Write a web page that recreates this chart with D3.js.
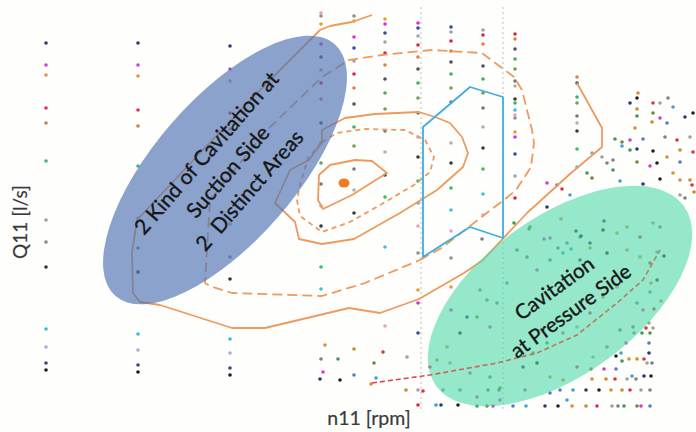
<!DOCTYPE html>
<html>
<head>
<meta charset="utf-8">
<script src="https://cdn.jsdelivr.net/npm/d3@7"></script>
<style>
  html, body { margin: 0; padding: 0; background: #fefefc; }
  svg { display: block; }
  .lbl { font-family: Lato, "Open Sans", sans-serif; fill: #161616; stroke: #161616; stroke-width: 0.35px; white-space: pre; }
  .axis-title { font-family: Lato, "Open Sans", sans-serif; fill: #3a3a3a; stroke: #3a3a3a; stroke-width: 0.2px; }
</style>
</head>
<body>
<svg id="chart" width="696" height="432"></svg>
<script>
// n11 / Q11 in arbitrary units (no ticks on the original)
var sweepN = [4.6, 13.8, 23.0, 32.1, 35.4, 38.5, 41.8, 45.1, 48.3, 51.5, 57.7];
var sweepQ = [
  [38.9, 36.7, 35.7, 32.4, 30.9, 27.1, 21.2, 19.0, 16.5, 10.3, 8.5, 6.9, 6.2],
  [38.9, 36.7, 35.6, 32.2, 30.6, 26.6, 21.4, 18.4, 16.0, 9.8, 8.2, 6.7, 6.0],
  [38.6, 36.3, 35.1, 31.9, 30.3, 26.1, 20.8, 17.5, 15.3, 9.3, 7.9, 6.4, 5.7],
  [41.9, 41.6, 40.8, 38.8, 37.5, 36.2, 34.9, 33.3, 30.9, 28.9, 26.9, 24.8, 22.6, 20.6, 16.5, 14.3],
  [41.6, 41.1, 39.5, 38.4, 37.1, 35.8, 34.4, 32.8, 30.5, 28.6, 26.3, 24.2, 21.9],
  [41.3, 40.8, 39.9, 39.0, 37.9, 36.7, 35.3, 33.9, 32.3, 30.1, 28.0, 25.7, 23.5, 18.5, 10.6],
  [40.9, 40.4, 39.6, 38.7, 37.5, 36.3, 34.9, 33.4, 31.9, 29.5, 27.5, 25.1, 22.9, 20.6, 17.9, 14.2, 12.9, 9.9, 4.2, 2.7],
  [40.5, 40.0, 39.1, 38.1, 37.0, 35.8, 34.4, 33.0, 28.9, 26.9, 24.4, 22.2, 20.1, 17.4, 14.5, 12.2],
  [40.2, 39.7, 38.8, 36.6, 35.3, 33.9, 32.4, 30.5, 28.4, 26.3, 23.8, 21.7],
  [39.8, 39.3, 38.3, 37.3, 36.3, 35.1, 34.6, 33.3, 32.9, 32.2, 31.7, 31.4, 30.0, 29.5, 27.8, 25.6, 23.4],
  [35.5, 34.9, 33.5, 32.9, 31.6, 30.9, 30.1, 28.3, 26.5]
];

// loose measured points (right cluster, pressure side, lower rows)
var scatterPts = [
  [63.0,32.9],[63.7,33.4],[63.8,33.9],[63.7,32.3],[65.3,32.9],[66.0,32.9],[66.8,33.4],[63.7,31.6],[65.3,31.9],
  [66.0,31.4],[66.7,30.9],[67.3,32.5],[68.5,31.5],[69.3,31.9],[63.5,30.4],[65.2,31.0],[67.7,29.2],[69.0,29.5],
  [66.5,29.5],[61.5,29.3],[62.2,29.0],[63.0,29.2],[64.3,29.3],[62.2,28.6],[63.7,28.3],[65.3,28.1],[66.7,27.5],
  [68.0,28.2],[69.3,28.0],[60.2,27.5],[61.3,27.2],[63.0,28.2],[63.7,27.0],[65.0,26.6],[68.0,27.0],[62.0,25.1],
  [64.3,24.8],[66.0,25.3],[68.0,25.2],[69.0,25.2],[69.2,24.7],[68.0,23.7],[68.5,23.4],[58.7,25.9],[59.2,25.4],
  [54.7,24.9],[55.7,24.7],[57.0,23.7],[54.7,22.5],[65.7,26.9],[67.3,25.9],[69.4,24.0],[56.2,24.3],[59.2,27.9],
  [60.7,26.9],[61.3,26.2],
  [53.0,20.5],[55.0,19.4],[56.7,18.9],[58.0,19.5],[59.0,18.9],[60.3,20.2],[61.7,19.9],[62.7,20.5],[64.0,19.5],
  [65.3,20.9],[66.0,20.5],[51.7,18.2],[52.7,17.5],[53.7,16.2],[55.0,17.2],[56.3,17.9],[58.0,17.2],[60.7,17.9],
  [62.7,18.2],[64.0,17.5],[65.0,16.9],[65.7,18.0],[48.0,14.2],[48.7,13.2],[47.7,11.5],[49.0,10.5],[49.7,12.9],
  [50.7,14.9],[46.7,11.5],[46.0,9.9],[44.7,8.5],[43.7,7.2],[43.0,6.5],[45.0,6.9],[47.0,5.9],[49.0,5.5],
  [50.0,4.4],[47.7,3.5],[46.0,4.2],[44.3,4.2],[52.3,6.5],[53.7,6.9],[55.0,5.5],[56.3,5.2],[57.7,6.5],
  [59.3,7.5],[60.7,8.5],[62.0,10.2],[63.3,10.5],[64.3,12.2],[63.7,12.9],[65.0,14.0],[65.7,15.2],[62.7,15.5],
  [61.7,14.5],[60.3,13.5],[59.0,11.9],[57.7,10.5],[56.3,9.9],[54.7,8.9],[53.3,7.9],[50.0,3.2],[55.0,3.9],
  [56.7,3.2],[60.4,21.1],[66.4,17.6],[65.1,14.9],[66.1,13.1],[65.4,12.3],[64.9,10.9],
  [48.2,19.3],[51.4,20.9],[52.9,20.3],[54.4,19.3],[55.8,18.4],[57.1,18.3],[57.6,20.1],[58.1,19.6],[56.1,21.3],[59.0,18.4],
  [64.6,10.4],[65.3,10.4],[63.4,9.9],[64.2,9.9],[65.0,9.9],[62.6,8.9],[64.9,8.9],[62.1,7.9],[64.9,7.9],
  [61.6,7.6],[62.9,7.3],[63.7,7.3],[64.4,7.3],[64.7,6.9],[65.2,6.9],[62.2,7.1],[59.1,6.3],[60.4,6.3],
  [61.6,6.3],[63.2,5.6],[64.4,5.6],[65.1,5.6],[59.2,5.3],[60.6,5.3],[61.5,5.3],[62.7,5.3],[63.6,5.3],
  [48.8,4.2],[49.9,4.2],[52.5,4.2],[56.0,4.2],[57.3,4.2],[58.6,4.2],[59.9,4.2],[61.1,4.2],[62.2,4.2],
  [63.0,4.2],[64.1,4.2],[65.0,4.2],
  [47.7,2.6],[48.7,2.6],[49.3,2.6],[51.3,2.6],[52.6,2.6],[54.5,2.6],[55.8,2.6],[57.2,2.6],[58.6,2.6],
  [59.7,2.6],[61.2,2.6],[61.8,2.6],[62.4,2.6],[63.7,2.6],[64.1,2.6],[65.0,2.6],[43.6,2.7],[44.1,2.7],[45.8,2.7],
  [32.5,8.7],[35.4,8.3],[38.3,8.0],[40.7,7.5],[32.1,7.3],[33.8,7.3],[37.4,6.9],[32.3,6.0],[35.4,5.7],
  [37.6,5.4],[32.0,5.3],[34.0,5.2],[37.1,4.8],[40.6,4.2],[42.3,4.1]
];

// efficiency iso-lines
var isoInner = [[31.9,25.7],[33.0,26.7],[35.5,27.2],[37.2,27.1],[38.7,25.9],[35.2,23.7],[32.3,22.3],[31.8,23.2]];
var isoDash1 = [[32.2,29.0],[33.7,29.9],[36.5,30.3],[40.5,30.2],[42.5,29.2],[43.4,27.5],[43.0,26.0],[41.4,24.7],
  [38.0,22.7],[35.0,21.0],[32.2,20.0],[30.0,21.6],[29.7,23.2],[30.0,24.7],[30.8,27.4]];
var isoMid = [[32.2,29.0],[32.2,30.2],[34.5,31.4],[37.5,31.8],[41.9,32.0],[43.5,31.5],[45.0,30.9],[46.2,29.5],
  [46.8,27.9],[46.3,26.5],[43.7,24.2],[40.0,21.9],[35.4,19.3],[32.2,18.8],[29.9,19.3],[29.5,21.0],[27.5,22.9],
  [29.0,26.2],[30.9,27.2]];
var isoDash2 = [[42.0,17.2],[44.3,18.5],[48.4,21.7],[50.4,23.2],[51.6,24.2],[53.1,26.5],[53.4,28.9],[53.2,30.2],
  [52.2,34.2],[51.4,35.5],[48.2,37.9],[46.4,38.0],[43.2,38.2],[38.2,37.7],[34.9,37.2],[32.2,35.5],[26.7,30.2],
  [21.0,23.2],[20.5,14.9],[21.0,14.6],[23.2,13.9],[32.2,13.6],[36.5,14.9]];
var isoOuter = [[37.2,41.7],[35.2,41.0],[34.6,40.9],[33.0,40.6],[32.0,40.2],[31.3,39.5],[26.0,34.2],[20.0,27.9],
  [13.7,21.2],[13.2,17.9],[13.3,13.9],[14.0,13.0],[16.0,12.7],[23.2,10.4],[26.5,10.4],[34.9,12.4],[38.0,11.9],
  [41.9,13.3],[46.4,15.9],[48.3,17.2],[52.7,21.9],[57.1,25.9],[60.2,28.5],[60.2,30.4],[57.7,34.9]];

var cavFree = [[42.3,30.5],[47.0,34.5],[50.3,33.5],[50.3,19.4],[47.0,20.5],[42.3,17.5]];
var pressureLine = [[37.2,4.9],[43.0,5.7],[49.7,6.9],[53.7,7.9],[57.7,9.7],[61.7,12.9],[64.3,15.2],[66.0,18.2]];
var guideN = [42.1, 50.3];
var guideQ = [2.2, 42.5];
var bestPoint = [34.4, 24.9];

// zones: centre n, centre q, semi-axes (n units), tilt (deg)
var zoneSuction = { c: [22.5, 26.2], a: 16.7, b: 7.1, tilt: -49,
  lines: ["2 Kind of Cavitation at", "Suction Side", "2  Distinct Areas"], t: [22.7, 26.1] };
var zonePressure = { c: [56.0, 13.6], a: 15.3, b: 7.9, tilt: -36,
  lines: ["Cavitation", "at Pressure Side"], t: [56.2, 13.3] };

var W = 696, H = 432;
var x = d3.scaleLinear().domain([0, 69.6]).range([0, W]);
var y = d3.scaleLinear().domain([0, 43.2]).range([H, 0]);
var svg = d3.select("#chart");

var leftSeq = ["#2d3c78","#d840d8","#e8904a","#e0305a","#d08040","#3cb878","#a0a0a0","#8a8a8a","#333340","#3cb8e0","#a0b0e0","#3a4680","#1a1a2a"];
var mainSeq = ["#3a3a3a","#30c060","#40c0d8","#e8a0c0","#909090","#e0a030","#d830d0","#304c9c","#a0a0b0","#e02040","#e08040","#505060","#40b060","#70a050","#787878","#b0b0b0"];
var mixSeq = ["#2a3a6a","#3a9a5a","#e08a3a","#d040c0","#e03040","#40a0d0","#808080","#202020","#6a8a3a","#c09030","#5a7ac0","#a0a0a0"];

// guides
svg.append("g").selectAll("line").data(guideN).join("line")
  .attr("x1", function (d) { return x(d); }).attr("x2", function (d) { return x(d); })
  .attr("y1", y(guideQ[1])).attr("y2", y(guideQ[0]))
  .attr("stroke", "#bdbdbd").attr("stroke-width", 1).attr("stroke-dasharray", "2,3");

// dots
var dots = [];
sweepN.forEach(function (n, ci) {
  sweepQ[ci].forEach(function (q, i) {
    var c = ci < 3 ? leftSeq[i % leftSeq.length] : mainSeq[(i + ci) % mainSeq.length];
    dots.push({ n: n, q: q, c: c });
  });
});
scatterPts.forEach(function (p, i) { dots.push({ n: p[0], q: p[1], c: mixSeq[(i * 7) % mixSeq.length] }); });
svg.append("g").selectAll("circle").data(dots).join("circle")
  .attr("cx", function (d) { return x(d.n); }).attr("cy", function (d) { return y(d.q); })
  .attr("r", 1.8).attr("fill", function (d) { return d.c; });

// iso-lines
var openLine = d3.line().x(function (d) { return x(d[0]); }).y(function (d) { return y(d[1]); });
var loopLine = d3.line().x(function (d) { return x(d[0]); }).y(function (d) { return y(d[1]); }).curve(d3.curveLinearClosed);
var iso = svg.append("g").attr("fill", "none").attr("stroke", "#ee9a5e").attr("stroke-width", 1.8)
  .attr("stroke-linejoin", "round");
iso.append("path").attr("d", loopLine(isoInner));
iso.append("path").attr("d", loopLine(isoDash1)).attr("stroke-dasharray", "5,4");
iso.append("path").attr("d", loopLine(isoMid));
iso.append("path").attr("d", loopLine(isoDash2)).attr("stroke-dasharray", "10,5");
iso.append("path").attr("d", openLine(isoOuter));

svg.append("path").attr("d", loopLine(cavFree)).attr("fill", "none")
  .attr("stroke", "#3eaede").attr("stroke-width", 1.8).attr("stroke-linejoin", "round");

svg.append("ellipse").attr("cx", x(bestPoint[0])).attr("cy", y(bestPoint[1]))
  .attr("rx", 5.5).attr("ry", 4.6).attr("fill", "#ee7a22");

// zones
function zone(z, fill, op) {
  svg.append("ellipse").attr("cx", 0).attr("cy", 0)
    .attr("rx", x(z.a) - x(0)).attr("ry", x(z.b) - x(0))
    .attr("transform", "translate(" + x(z.c[0]) + "," + y(z.c[1]) + ") rotate(" + z.tilt + ")")
    .attr("fill", fill).attr("fill-opacity", op);
}
function zoneText(z, fs, lh) {
  var g = svg.append("g").attr("transform", "translate(" + x(z.t[0]) + "," + y(z.t[1]) + ") rotate(" + z.tilt + ")");
  var k = z.lines.length;
  g.selectAll("text").data(z.lines).join("text").attr("class", "lbl")
    .attr("x", 0).attr("y", function (d, i) { return (i - (k - 1) / 2) * lh; })
    .attr("text-anchor", "middle").attr("dominant-baseline", "central")
    .style("font-size", fs + "px").text(function (d) { return d; });
}
zone(zoneSuction, "#4f74b3", 0.66);
zone(zonePressure, "#4fd8a6", 0.6);

// pressure-side trace sits over the green zone
var grad = svg.append("defs").append("linearGradient").attr("id", "pgrad")
  .attr("gradientUnits", "userSpaceOnUse")
  .attr("x1", x(pressureLine[0][0])).attr("x2", x(pressureLine[pressureLine.length - 1][0]))
  .attr("y1", 0).attr("y2", 0);
grad.append("stop").attr("offset", 0).attr("stop-color", "#e23a4a");
grad.append("stop").attr("offset", 0.3).attr("stop-color", "#c86650");
grad.append("stop").attr("offset", 1).attr("stop-color", "#a88860");
svg.append("path").attr("d", openLine(pressureLine)).attr("fill", "none")
  .attr("stroke", "url(#pgrad)").attr("stroke-width", 1.6).attr("stroke-dasharray", "5,3");

zoneText(zoneSuction, 21, 28.5);
zoneText(zonePressure, 20.5, 28);

svg.append("text").attr("class", "axis-title")
  .attr("transform", "translate(" + 19 + "," + 222 + ") rotate(-90)")
  .attr("text-anchor", "middle").attr("dominant-baseline", "central")
  .style("font-size", "19px").text("Q11 [l/s]");
svg.append("text").attr("class", "axis-title")
  .attr("x", 369).attr("y", 425).attr("text-anchor", "middle")
  .style("font-size", "19.5px").text("n11 [rpm]");
</script>
</body>
</html>
